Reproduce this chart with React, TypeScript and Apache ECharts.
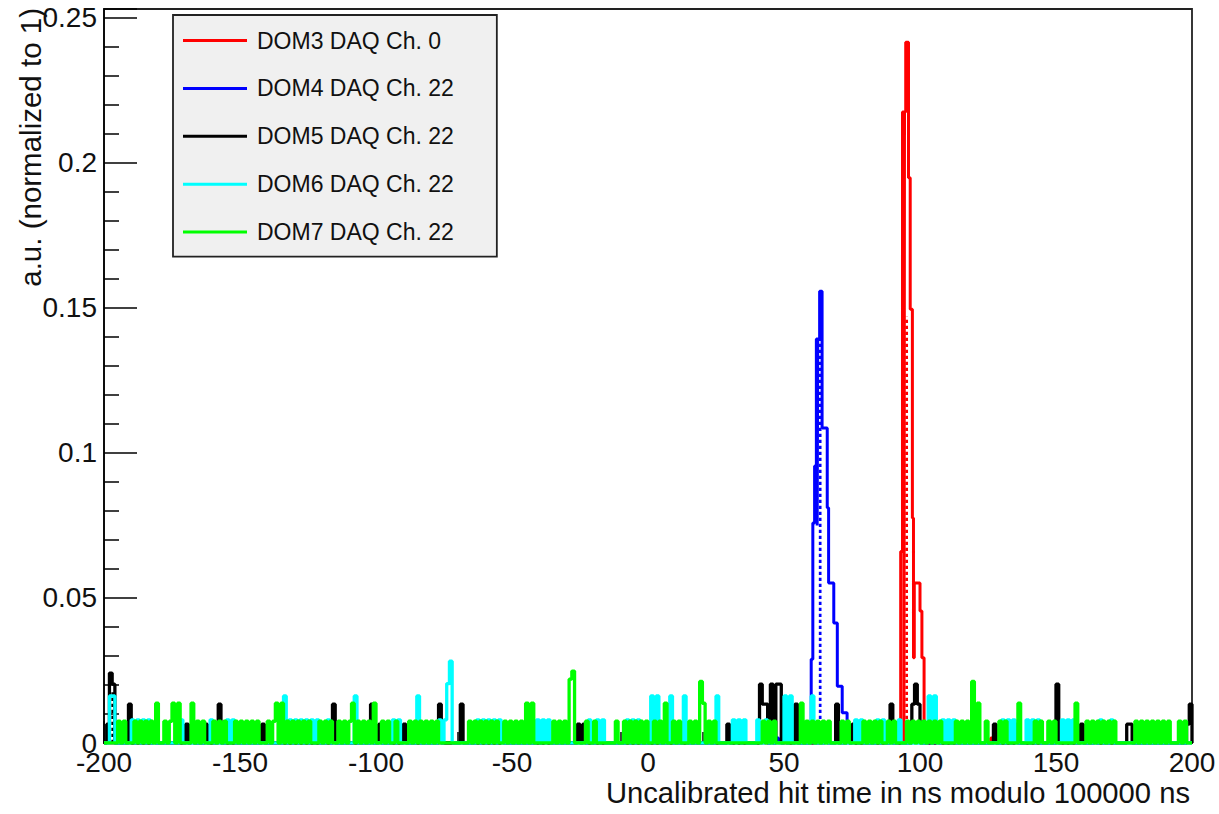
import React, { useEffect, useRef } from "react";
import * as echarts from "echarts";

const X_MIN = -200;
const X_MAX = 200;
const Y_MAX = 0.2531;
const FONT = '"Liberation Sans", Arial, Helvetica, sans-serif';

const SERIES_NAMES = [
  "DOM3 DAQ Ch. 0",
  "DOM4 DAQ Ch. 22",
  "DOM5 DAQ Ch. 22",
  "DOM6 DAQ Ch. 22",
  "DOM7 DAQ Ch. 22",
];
const SERIES_COLORS = ["#ff0000", "#0000ff", "#000000", "#00ffff", "#00ff00"];

// ---- DOM3 (red): [start ns, end ns, value]
const RED_RUNS: [number, number, number][] = [
  [92.9, 93.56, 0.066],
  [93.56, 94.1, 0.2176],
  [94.1, 94.3, 0.0],
  [94.3, 94.75, 0.2176],
  [94.75, 95.77, 0.2416],
  [95.77, 96.4, 0.1949],
  [96.4, 97.2, 0.1496],
  [97.2, 97.6, 0.0776],
  [97.6, 97.9, 0.0294],
  [97.9, 100.0, 0.0552],
  [100.0, 100.7, 0.0455],
  [100.7, 101.5, 0.0294],
  [112, 113, 0.0017],
  [126, 127, 0.0017],
];

// ---- DOM4 (blue)
const BLUE_RUNS: [number, number, number][] = [
  [47, 48, 0.0017],
  [60.0, 60.6, 0.0289],
  [60.6, 61.25, 0.0759],
  [61.25, 61.9, 0.0955],
  [61.9, 62.2, 0.1393],
  [62.2, 62.4, 0.075],
  [62.4, 63.1, 0.1393],
  [63.1, 64.0, 0.1558],
  [64.0, 65.9, 0.1086],
  [65.9, 66.4, 0.0811],
  [66.4, 68.3, 0.0552],
  [68.3, 69.6, 0.0414],
  [69.6, 71.4, 0.0196],
  [71.4, 73.2, 0.0104],
  [86, 87, 0.0017],
];

// ---- DOM5 (black): 1 ns bins (left edges) per level
const BLACK_LEVELS = [0.0065, 0.0134, 0.0203];
const BLACK_L1 = [-199, -182, -170, -168, -163, -142, -99, -90, -54, -38, -26, -24, 29, 32, 65, 73, 75, 106, 127, 135, 159, 164, 176, 177, 198];
const BLACK_L2 = [-191, -158, -116, -102, -77, -69, 42, 43, 50, 54, 69, 89, 97, 99, 199];
const BLACK_L3 = [-197, 41, 45, 48, 98, 150];
const BLACK_EXTRA: [number, number][] = [[-198, 0.0241], [47, 0.0203]];

// ---- DOM6 (cyan)
const CYAN_LEVELS = [0.008, 0.0162];
const CYAN_L1 = [-190, -188, -186, -184, -172, -161, -155, -153, -132, -130, -128, -126, -124, -122, -118, -94, -92, -77, -75, -63, -61, -59, -57, -55, -41, -39, -37, -22, -19, -17, -8, -6, -4, 31, 33, 35, 40, 43, 76, 78, 84, 86, 92, 108, 110, 112, 130, 132, 134, 139, 141, 143, 152, 154, 156, 166, 170];
const CYAN_L2 = [-198, -197, -134, -108, -85, 1, 3, 8, 13, 25, 50, 52, 60, 103, 105];
const CYAN_EXTRA: [number, number][] = [[-74, 0.0205], [-73, 0.0282]];

// ---- DOM7 (green)
const GREEN_LEVELS = [0.0075, 0.0137, 0.0212];
const GREEN_L1 = [-195, -193, -189, -187, -185, -183, -178, -176, -166, -164, -160, -158, -156, -152, -150, -148, -146, -144, -140, -138, -133, -131, -129, -127, -125, -121, -119, -117, -114, -112, -110, -107, -105, -103, -98, -96, -93, -88, -86, -84, -82, -80, -78, -66, -64, -62, -60, -58, -56, -53, -51, -49, -47, -35, -33, -31, -23, -20, -12, -9, -7, -5, -3, -1, 2, 4, 9, 11, 15, 17, 22, 24, 42, 44, 46, 58, 60, 62, 64, 66, 71, 73, 79, 81, 83, 85, 88, 90, 95, 97, 99, 101, 103, 105, 107, 113, 115, 117, 124, 129, 131, 142, 144, 147, 149, 161, 163, 165, 167, 169, 171, 179, 181, 183, 185, 187, 189, 191, 195, 197];
const GREEN_L2 = [-181, -175, -173, -168, -137, -135, -109, -101, -45, -43, 6, 20, 56, 121, 136, 157];
const GREEN_L3 = [19, 119];
const GREEN_EXTRA: [number, number][] = [[-29, 0.022], [-28, 0.0248]];

// ---- dotted markers: x position, top value, colour
const MARKER_X = [95.1, 63.3, -196.8];
const MARKER_TOP = [0.147, 0.1396, 0.0175];
const MARKER_COLOR = ["#ff0000", "#0000ff", "#000000"];

const Y_LABELS = [0, 0.05, 0.1, 0.15, 0.2, 0.25];
const X_LABELS = [-200, -150, -100, -50, 0, 50, 100, 150, 200];

function binsToRuns(levels: number[], lists: number[][], extra: [number, number][]) {
  const m = new Map<number, number>();
  lists.forEach((list, i) => {
    list.forEach((b) => m.set(b, Math.max(m.get(b) ?? 0, levels[i])));
  });
  extra.forEach(([b, v]) => m.set(b, Math.max(m.get(b) ?? 0, v)));
  return Array.from(m.entries()).map(([b, v]) => [b, b + 1, v] as [number, number, number]);
}

function stepPoints(runs: [number, number, number][]) {
  const r = runs.slice().sort((a, b) => a[0] - b[0]);
  const pts: [number, number][] = [[X_MIN, 0]];
  let lastX = X_MIN;
  for (const [s, e, v] of r) {
    if (s > lastX + 1e-6) {
      pts.push([lastX, 0]);
      pts.push([s, 0]);
    } else {
      pts.push([s, pts[pts.length - 1][1]]);
    }
    pts.push([s, v]);
    pts.push([e, v]);
    lastX = e;
  }
  pts.push([lastX, 0]);
  pts.push([X_MAX, 0]);
  return pts;
}

export default function App() {
  const ref = useRef<HTMLDivElement>(null);
  useEffect(() => {
    if (!ref.current) return;
    const chart = echarts.init(ref.current, undefined, { renderer: "svg" });

    const allRuns = [
      RED_RUNS,
      BLUE_RUNS,
      binsToRuns(BLACK_LEVELS, [BLACK_L1, BLACK_L2, BLACK_L3], BLACK_EXTRA),
      binsToRuns(CYAN_LEVELS, [CYAN_L1, CYAN_L2], CYAN_EXTRA),
      binsToRuns(GREEN_LEVELS, [GREEN_L1, GREEN_L2, GREEN_L3], GREEN_EXTRA),
    ];

    const series: any[] = [];
    allRuns.forEach((runs, i) => {
      series.push({
        name: SERIES_NAMES[i],
        type: "line",
        data: stepPoints(runs),
        showSymbol: false,
        symbol: "none",
        lineStyle: { color: SERIES_COLORS[i], width: i < 2 ? 3 : 3.3 },
        itemStyle: { color: SERIES_COLORS[i] },
        z: 2 + i,
        silent: true,
      });
      const mi = MARKER_COLOR.indexOf(SERIES_COLORS[i]);
      if (mi >= 0) {
        series.push({
          name: SERIES_NAMES[i] + " marker",
          type: "line",
          data: [
            [MARKER_X[mi], 0],
            [MARKER_X[mi], MARKER_TOP[mi]],
          ],
          showSymbol: false,
          symbol: "none",
          lineStyle: { color: MARKER_COLOR[mi], width: 2.7, type: [3.3, 2.7] },
          z: 2 + i,
          silent: true,
        });
      }
    });

    chart.setOption({
      animation: false,
      backgroundColor: "#ffffff",
      textStyle: { fontFamily: FONT },
      grid: {
        left: 104,
        right: 27,
        top: 9,
        bottom: 71,
        show: true,
        borderColor: "#222",
        borderWidth: 1.8,
        containLabel: false,
        outerBoundsMode: "none",
      },
      legend: {
        data: SERIES_NAMES,
        orient: "vertical",
        left: 173,
        top: 15,
        padding: [14, 43, 13, 10],
        itemGap: 24.9,
        itemWidth: 64,
        itemHeight: 3,
        icon: "rect",
        backgroundColor: "#f0f0f0",
        borderColor: "#222",
        borderWidth: 1.8,
        selectedMode: false,
        textStyle: { fontSize: 23, color: "#111", fontFamily: FONT, padding: [0, 0, 0, 5] },
      },
      xAxis: {
        type: "value",
        min: X_MIN,
        max: X_MAX,
        interval: 50,
        axisLine: { show: true, onZero: false, lineStyle: { color: "#000", width: 1.5 } },
        axisTick: { show: true, inside: true, length: 22, lineStyle: { color: "#000", width: 1.5 } },
        minorTick: { show: true, splitNumber: 5, length: 11, lineStyle: { color: "#000", width: 1.5 } },
        splitLine: { show: false },
        axisLabel: {
          fontSize: 28,
          color: "#111",
          margin: 5,
          fontFamily: FONT,
          formatter: (v: number) => (X_LABELS.includes(v) ? String(v) : ""),
        },
      },
      yAxis: {
        type: "value",
        min: 0,
        max: Y_MAX,
        interval: 0.05,
        axisLine: { show: true, onZero: false, lineStyle: { color: "#000", width: 1.5 } },
        axisTick: { show: true, inside: true, length: 33, lineStyle: { color: "#000", width: 1.5 } },
        minorTick: { show: true, splitNumber: 5, length: 15, lineStyle: { color: "#000", width: 1.5 } },
        splitLine: { show: false },
        axisLabel: {
          fontSize: 28,
          color: "#111",
          margin: 7,
          fontFamily: FONT,
          formatter: (v: number) => {
            const hit = Y_LABELS.find((t) => Math.abs(t - v) < 1e-9);
            return hit === undefined ? "" : String(hit);
          },
        },
      },
      graphic: [
        {
          type: "text",
          x: 1190,
          y: 793,
          style: {
            text: "Uncalibrated hit time in ns modulo 100000 ns",
            fontSize: 29.2,
            fontFamily: FONT,
            fill: "#111",
            align: "right",
            verticalAlign: "middle",
          },
        },
        {
          type: "text",
          x: 30,
          y: 8,
          rotation: Math.PI / 2,
          style: {
            text: "a.u. (normalized to 1)",
            fontSize: 29.5,
            fontFamily: FONT,
            fill: "#111",
            align: "right",
            verticalAlign: "middle",
          },
        },
      ],
      series,
    });

    return () => chart.dispose();
  }, []);

  return (
    <div
      ref={ref}
      style={{ position: "absolute", left: 0, top: 0, width: 1219, height: 814 }}
    />
  );
}
